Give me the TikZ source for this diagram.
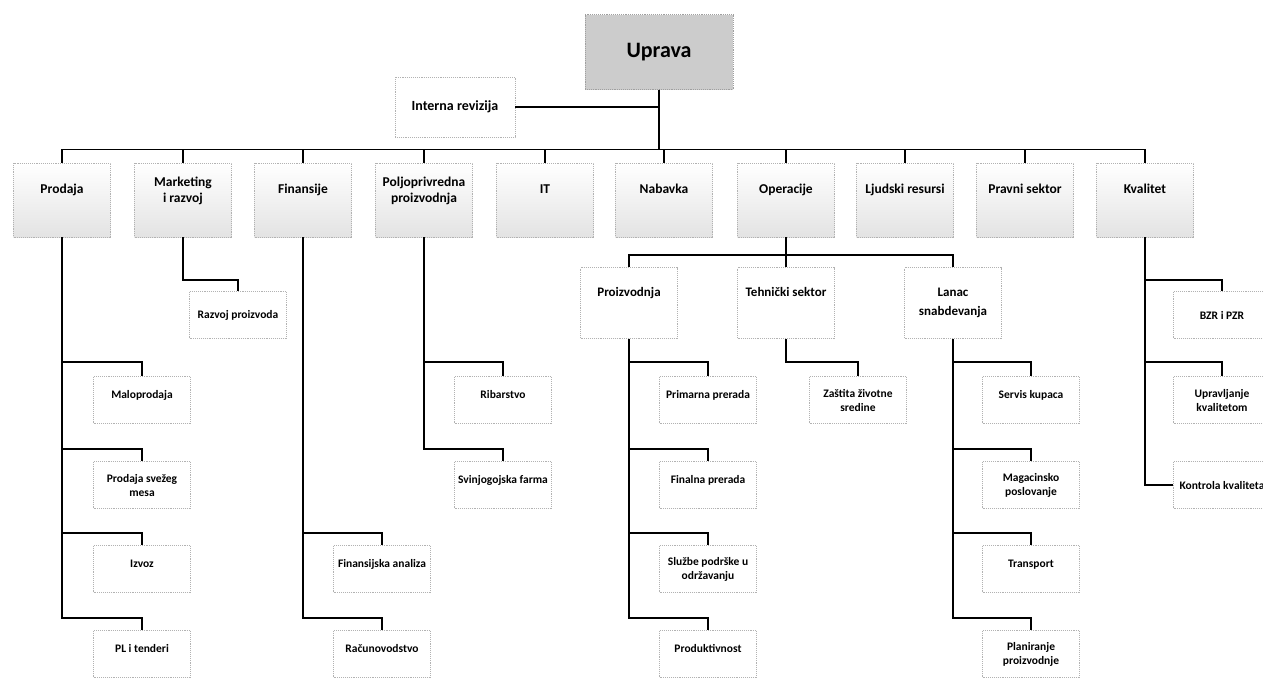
\documentclass[tikz,border=0pt]{standalone}
\usepackage{fontspec}
\setmainfont{Carlito}
\tikzset{
	box/.style={draw=gray!60, densely dotted, line width=0.9pt, align=center, minimum width=97pt, inner sep=2pt},
	head/.style={box, draw=gray!75, fill=gray!40, minimum width=148pt, minimum height=75pt, font=\bfseries\fontsize{22}{24}\selectfont},
	dept/.style={box, minimum height=74pt, top color=white, bottom color=gray!22, font=\bfseries\fontsize{13.5}{16}\selectfont},
	sub/.style={box, minimum height=71pt, fill=white, font=\bfseries\fontsize{13}{19}\selectfont},
	unit/.style={box, minimum height=47pt, fill=white, font=\bfseries\fontsize{11.5}{14}\selectfont},
	lift/.style={text height=8pt, text depth=#1},
	link/.style={line width=1.5pt, black},
}
\begin{document}
\begin{tikzpicture}[x=1pt, y=-1pt]
	\clip (0,0) rectangle (1263,678);
	\fill[white] (0,0) rectangle (1263,678);
	% top
	\node[head] (uprava) at (659,52) {Uprava};
	\node[box, fill=white, minimum width=120pt, minimum height=60pt, font=\bfseries\fontsize{14}{16}\selectfont] (revizija) at (455,107) {Interna revizija};
	% departments
	\node[dept, lift=22pt] (prodaja) at (62,200) {Prodaja};
	\node[dept, lift=4pt] (marketing) at (183,200) {Marketing\\i razvoj};
	\node[dept, lift=22pt] (finansije) at (303,200) {Finansije};
	\node[dept, lift=4pt] (poljo) at (424,200) {Poljoprivredna\\proizvodnja};
	\node[dept, lift=22pt] (it) at (545,200) {IT};
	\node[dept, lift=22pt] (nabavka) at (664,200) {Nabavka};
	\node[dept, lift=22pt] (operacije) at (786,200) {Operacije};
	\node[dept, lift=22pt] (ljudski) at (905,200) {Ljudski resursi};
	\node[dept, lift=22pt] (pravni) at (1025,200) {Pravni sektor};
	\node[dept, lift=22pt] (kvalitet) at (1145,200) {Kvalitet};
	% operacije sectors
	\node[sub, lift=21pt] (proizvodnja) at (629,303) {Proizvodnja};
	\node[sub, lift=21pt] (tehnicki) at (786,303) {Tehnički sektor};
	\node[sub] (lanac) at (953,303) {Lanac\\snabdevanja};
	% units
	\node[unit, lift=11pt] (malo) at (142,400) {Maloprodaja};
	\node[unit] (svezemeso) at (142,485) {Prodaja svežeg\\mesa};
	\node[unit, lift=11pt] (izvoz) at (142,569) {Izvoz};
	\node[unit, lift=11pt] (tenderi) at (142,654) {PL i tenderi};
	\node[unit] (razvoj) at (238,315) {Razvoj proizvoda};
	\node[unit, lift=11pt] (analiza) at (382,569) {Finansijska analiza};
	\node[unit, lift=11pt] (racun) at (382,654) {Računovodstvo};
	\node[unit, lift=11pt] (ribarstvo) at (503,400) {Ribarstvo};
	\node[unit, lift=11pt] (farma) at (503,485) {Svinjogojska farma};
	\node[unit, lift=11pt] (primarna) at (708,400) {Primarna prerada};
	\node[unit, lift=11pt] (finalna) at (708,485) {Finalna prerada};
	\node[unit] (sluzbe) at (708,569) {Službe podrške u\\održavanju};
	\node[unit, lift=11pt] (produkt) at (708,654) {Produktivnost};
	\node[unit] (zastita) at (858,400) {Zaštita životne\\sredine};
	\node[unit, lift=11pt] (servis) at (1031,400) {Servis kupaca};
	\node[unit] (magacin) at (1031,485) {Magacinsko\\poslovanje};
	\node[unit, lift=11pt] (transport) at (1031,569) {Transport};
	\node[unit] (planiranje) at (1031,654) {Planiranje\\proizvodnje};
	\node[unit] (bzr) at (1222,315) {BZR i PZR};
	\node[unit] (upravljanje) at (1222,400) {Upravljanje\\kvalitetom};
	\node[unit] (kontrola) at (1222,485) {Kontrola kvaliteta};
	% connectors from the top
	\draw[link] (revizija.east) -- (revizija.east -| uprava.south);
	\draw[link] (uprava.south) |- ([yshift=13pt]prodaja.north) -- (prodaja.north);
	\draw[link] (uprava.south) |- ([yshift=13pt]marketing.north) -- (marketing.north);
	\draw[link] (uprava.south) |- ([yshift=13pt]finansije.north) -- (finansije.north);
	\draw[link] (uprava.south) |- ([yshift=13pt]poljo.north) -- (poljo.north);
	\draw[link] (uprava.south) |- ([yshift=13pt]it.north) -- (it.north);
	\draw[link] (uprava.south) |- ([yshift=13pt]nabavka.north) -- (nabavka.north);
	\draw[link] (uprava.south) |- ([yshift=13pt]operacije.north) -- (operacije.north);
	\draw[link] (uprava.south) |- ([yshift=13pt]ljudski.north) -- (ljudski.north);
	\draw[link] (uprava.south) |- ([yshift=13pt]pravni.north) -- (pravni.north);
	\draw[link] (uprava.south) |- ([yshift=13pt]kvalitet.north) -- (kvalitet.north);
	% operacije
	\draw[link] (operacije.south) |- ([yshift=12pt]proizvodnja.north) -- (proizvodnja.north);
	\draw[link] (operacije.south) |- ([yshift=12pt]tehnicki.north) -- (tehnicki.north);
	\draw[link] (operacije.south) |- ([yshift=12pt]lanac.north) -- (lanac.north);
	% prodaja
	\draw[link] (prodaja.south) |- ([yshift=14pt]malo.north) -- (malo.north);
	\draw[link] (prodaja.south) |- ([yshift=12pt]svezemeso.north) -- (svezemeso.north);
	\draw[link] (prodaja.south) |- ([yshift=12pt]izvoz.north) -- (izvoz.north);
	\draw[link] (prodaja.south) |- ([yshift=12pt]tenderi.north) -- (tenderi.north);
	% marketing, finansije, poljoprivreda
	\draw[link] (marketing.south) |- ([yshift=11pt]razvoj.north) -- (razvoj.north);
	\draw[link] (finansije.south) |- ([yshift=12pt]analiza.north) -- (analiza.north);
	\draw[link] (finansije.south) |- ([yshift=12pt]racun.north) -- (racun.north);
	\draw[link] (poljo.south) |- ([yshift=14pt]ribarstvo.north) -- (ribarstvo.north);
	\draw[link] (poljo.south) |- ([yshift=12pt]farma.north) -- (farma.north);
	% proizvodnja, tehnicki sektor
	\draw[link] (proizvodnja.south) |- ([yshift=14pt]primarna.north) -- (primarna.north);
	\draw[link] (proizvodnja.south) |- ([yshift=12pt]finalna.north) -- (finalna.north);
	\draw[link] (proizvodnja.south) |- ([yshift=12pt]sluzbe.north) -- (sluzbe.north);
	\draw[link] (proizvodnja.south) |- ([yshift=12pt]produkt.north) -- (produkt.north);
	\draw[link] (tehnicki.south) |- ([yshift=14pt]zastita.north) -- (zastita.north);
	% lanac snabdevanja
	\draw[link] (lanac.south) |- ([yshift=14pt]servis.north) -- (servis.north);
	\draw[link] (lanac.south) |- ([yshift=12pt]magacin.north) -- (magacin.north);
	\draw[link] (lanac.south) |- ([yshift=12pt]transport.north) -- (transport.north);
	\draw[link] (lanac.south) |- ([yshift=12pt]planiranje.north) -- (planiranje.north);
	% kvalitet
	\draw[link] (kvalitet.south) |- ([yshift=11pt]bzr.north) -- (bzr.north);
	\draw[link] (kvalitet.south) |- ([yshift=14pt]upravljanje.north) -- (upravljanje.north);
	\draw[link] (kvalitet.south) |- (kontrola.west);
\end{tikzpicture}
\end{document}
